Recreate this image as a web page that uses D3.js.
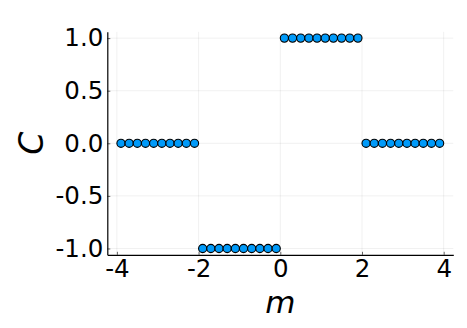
<!DOCTYPE html>
<html>
<head>
<meta charset="utf-8">
<script src="https://cdn.jsdelivr.net/npm/d3@7"></script>
<style>
  body { margin: 0; background: white; }
  text { font-family: "DejaVu Sans", sans-serif; }
</style>
</head>
<body>
<script>
// data
const mValues = [-3.9, -3.7, -3.5, -3.3, -3.1, -2.9, -2.7, -2.5, -2.3, -2.1,
                 -1.9, -1.7, -1.5, -1.3, -1.1, -0.9, -0.7, -0.5, -0.3, -0.1,
                 0.1, 0.3, 0.5, 0.7, 0.9, 1.1, 1.3, 1.5, 1.7, 1.9,
                 2.1, 2.3, 2.5, 2.7, 2.9, 3.1, 3.3, 3.5, 3.7, 3.9];
const cValues = [0, 0, 0, 0, 0, 0, 0, 0, 0, 0,
                 -1, -1, -1, -1, -1, -1, -1, -1, -1, -1,
                 1, 1, 1, 1, 1, 1, 1, 1, 1, 1,
                 0, 0, 0, 0, 0, 0, 0, 0, 0, 0];
const xTicks = [-4, -2, 0, 2, 4];
const yTicks = [-1.0, -0.5, 0.0, 0.5, 1.0];

const width = 467, height = 328;

const svg = d3.select("body").append("svg")
    .attr("width", width)
    .attr("height", height);

//plot area
const plotLeft = 107.3, plotRight = 453.3, plotTop = 31.8, plotBottom = 254.8;

const x = d3.scaleLinear().domain([-4.235, 4.235]).range([plotLeft, plotRight]);
const y = d3.scaleLinear().domain([-1.06, 1.06]).range([plotBottom, plotTop]);

//grid
svg.selectAll(".xgrid")
    .data(xTicks)
    .join("line")
    .attr("class", "xgrid")
    .attr("x1", d => x(d)).attr("x2", d => x(d))
    .attr("y1", plotTop).attr("y2", plotBottom)
    .attr("stroke", "#000").attr("stroke-opacity", 0.1).attr("stroke-width", 0.6);

svg.selectAll(".ygrid")
    .data(yTicks)
    .join("line")
    .attr("class", "ygrid")
    .attr("x1", plotLeft).attr("x2", plotRight)
    .attr("y1", d => y(d)).attr("y2", d => y(d))
    .attr("stroke", "#000").attr("stroke-opacity", 0.1).attr("stroke-width", 0.6);

//axes
const xAxis = svg.append("g")
    .attr("transform", `translate(0,${plotBottom})`)
    .call(d3.axisBottom(x).tickValues(xTicks).tickSizeInner(-3).tickSizeOuter(0).tickPadding(5)
        .tickFormat(d => d3.format("d")(d).replace("−", "-")));

const yAxis = svg.append("g")
    .attr("transform", `translate(${plotLeft},0)`)
    .call(d3.axisLeft(y).tickValues(yTicks).tickSizeInner(-3).tickSizeOuter(0).tickPadding(4)
        .tickFormat(d => d3.format(".1f")(d).replace("−", "-")));

[xAxis, yAxis].forEach(g => {
    g.select(".domain").attr("stroke", "#000").attr("stroke-width", 1.2);
    g.selectAll(".tick line").attr("stroke", "#000").attr("stroke-opacity", 0.6);
    g.selectAll(".tick text")
        .attr("fill", "#000")
        .style("font-family", "DejaVu Sans, sans-serif")
        .style("font-size", "24.5px");
});

//labels
svg.append("text")
    .attr("x", (plotLeft + plotRight) / 2)
    .attr("y", 313)
    .attr("text-anchor", "middle")
    .style("font-size", "31px")
    .style("font-style", "italic")
    .text("m");

svg.append("text")
    .attr("transform", `translate(43,${(plotTop + plotBottom) / 2}) rotate(-90)`)
    .attr("text-anchor", "middle")
    .style("font-size", "33px")
    .style("font-style", "italic")
    .text("C");

//points
svg.selectAll(".pt")
    .data(mValues)
    .join("circle")
    .attr("class", "pt")
    .attr("cx", d => x(d))
    .attr("cy", (d, i) => y(cValues[i]))
    .attr("r", 4.1)
    .attr("fill", "#009af9")
    .attr("stroke", "#000")
    .attr("stroke-width", 1.1);
</script>
</body>
</html>
